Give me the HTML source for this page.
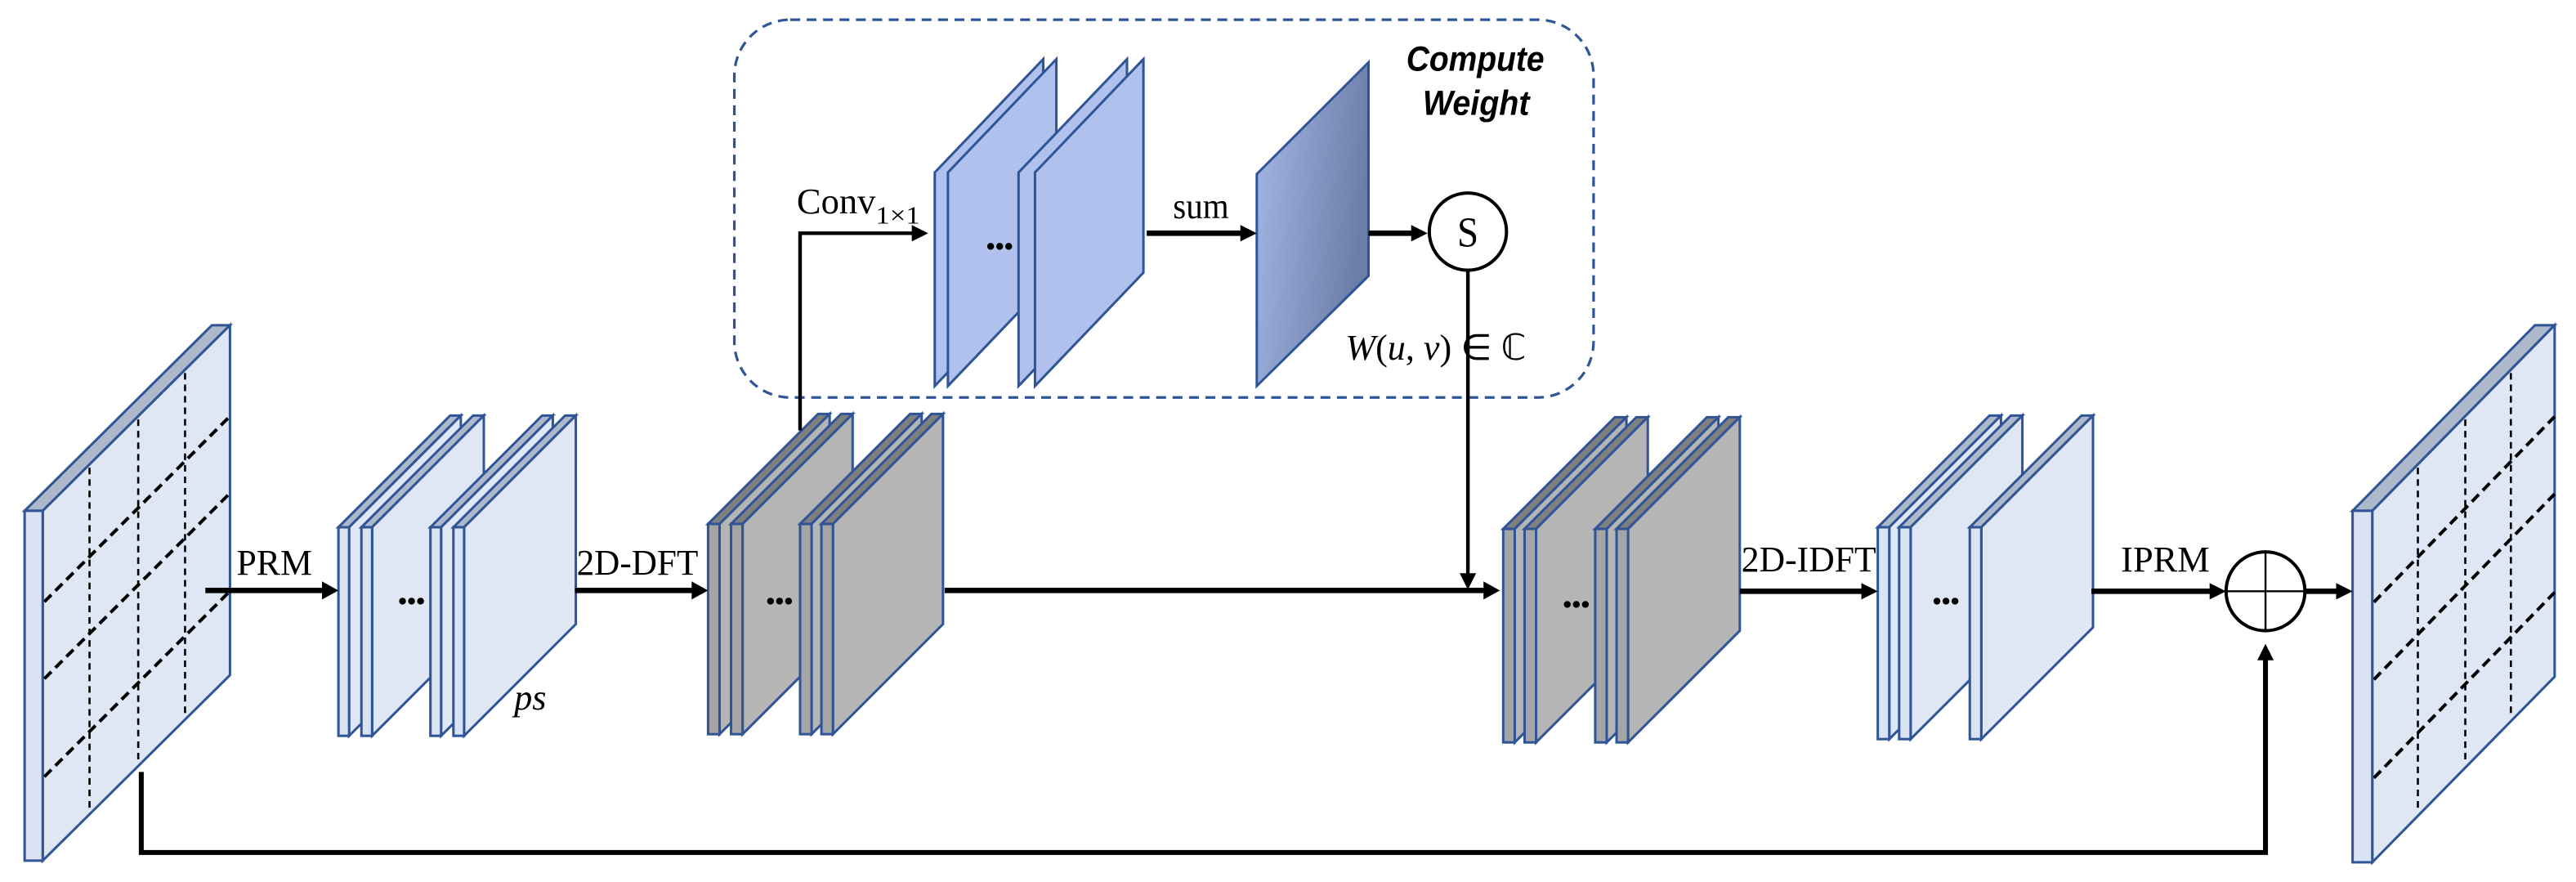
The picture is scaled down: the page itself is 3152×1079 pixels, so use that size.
<!DOCTYPE html>
<html><head><meta charset="utf-8">
<style>
html,body{margin:0;padding:0;background:#fff;width:3152px;height:1079px;overflow:hidden}
svg{display:block}
.lbl{font-family:"Liberation Serif",serif;font-size:22px;fill:#000}
</style></head>
<body>
<svg id="s" width="3152" height="1079" viewBox="0 0 1568 537" preserveAspectRatio="none" xmlns="http://www.w3.org/2000/svg">
<defs>
<linearGradient id="g" x1="0" y1="0" x2="1" y2="0.3">
<stop offset="0" stop-color="#a6b8e6"/><stop offset="1" stop-color="#6b7ea8"/>
</linearGradient>
</defs>
<rect x="447" y="12" width="523" height="230" rx="34" ry="34" fill="none" stroke="#2f5597" stroke-width="1.6" stroke-dasharray="6 4"/>
<g id="shapes"></g>
<g id="lines" stroke="#000" fill="none" stroke-linecap="butt">
<line x1="125" y1="359.5" x2="198" y2="359.5" stroke-width="3.3"/>
<line x1="350" y1="359.5" x2="423" y2="359.5" stroke-width="3.3"/>
<line x1="575" y1="359.5" x2="905" y2="359.5" stroke-width="3.3"/>
<line x1="1059" y1="360" x2="1135" y2="360" stroke-width="3.3"/>
<line x1="1273" y1="360" x2="1347" y2="360" stroke-width="3.3"/>
<line x1="1403" y1="360" x2="1424" y2="360" stroke-width="3.3"/>
<polyline points="86,470 86,519 1379,519 1379,400" stroke-width="3"/>
<polyline points="487,262 487,142 557,142" stroke-width="2.2"/>
<line x1="698" y1="142" x2="757" y2="142" stroke-width="3.3"/>
<line x1="833" y1="142" x2="861" y2="142" stroke-width="3.3"/>
<line x1="893.5" y1="165" x2="893.5" y2="350" stroke-width="2.2"/>
</g>
<g fill="#000">
<polygon points="206,359.5 196,354 196,365"/>
<polygon points="431,359.5 421,354 421,365"/>
<polygon points="913,359.5 903,354 903,365"/>
<polygon points="1143,360 1133,355 1133,365"/>
<polygon points="1355,360 1345,355 1345,365"/>
<polygon points="1432,360 1422,355 1422,365"/>
<polygon points="1379,392 1374,402 1384,402"/>
<polygon points="565,142 555,137 555,147"/>
<polygon points="765,142 755,137 755,147"/>
<polygon points="869,142 859,137 859,147"/>
<polygon points="893.5,359 888.5,349 898.5,349"/>
</g>
<circle cx="893.5" cy="141" r="23.5" fill="#fff" stroke="#000" stroke-width="2"/>
<text x="893.5" y="150" text-anchor="middle" class="lbl" style="font-size:26px" textLength="13" lengthAdjust="spacingAndGlyphs">S</text>
<circle cx="1379" cy="360" r="24" fill="#fff" stroke="#000" stroke-width="2"/>
<line x1="1355" y1="360" x2="1403" y2="360" stroke="#000" stroke-width="1.2"/>
<line x1="1379" y1="336" x2="1379" y2="384" stroke="#000" stroke-width="1.2"/>
<text class="lbl" x="144" y="350" textLength="46" lengthAdjust="spacingAndGlyphs">PRM</text>
<text class="lbl" x="351" y="350" textLength="74" lengthAdjust="spacingAndGlyphs">2D-DFT</text>
<text class="lbl" x="1060" y="348" textLength="82" lengthAdjust="spacingAndGlyphs">2D-IDFT</text>
<text class="lbl" x="1291" y="348" textLength="54" lengthAdjust="spacingAndGlyphs">IPRM</text>
<text class="lbl" x="313" y="432" style="font-style:italic">ps</text>
<text class="lbl" x="485" y="130" textLength="48" lengthAdjust="spacingAndGlyphs">Conv</text>
<text class="lbl" x="533" y="136" style="font-size:15px" textLength="27" lengthAdjust="spacingAndGlyphs">1×1</text>
<text class="lbl" x="714" y="133" textLength="34" lengthAdjust="spacingAndGlyphs">sum</text>
<text x="856" y="43" style="font-family:'Liberation Sans',sans-serif;font-weight:bold;font-style:italic;font-size:21px" textLength="84" lengthAdjust="spacingAndGlyphs">Compute</text>
<text x="866" y="70" style="font-family:'Liberation Sans',sans-serif;font-weight:bold;font-style:italic;font-size:21px" textLength="65" lengthAdjust="spacingAndGlyphs">Weight</text>
<text class="lbl" x="819" y="219" textLength="110" lengthAdjust="spacingAndGlyphs"><tspan font-style="italic">W</tspan>(<tspan font-style="italic">u</tspan>, <tspan font-style="italic">v</tspan>) ∈ ℂ</text>
</svg>
<script>
var NS="http://www.w3.org/2000/svg",G=document.getElementById("shapes");
function el(t,a){var e=document.createElementNS(NS,t);for(var k in a)e.setAttribute(k,a[k]);G.appendChild(e);return e;}
var SC="#2f5597";
function pts(a){return a.map(function(p){return p[0]+","+p[1]}).join(" ");}
function plane(x,y,t,dx,dy,h,face,top,front,sw){
 sw=sw||1.5;
 el("polygon",{points:pts([[x,y],[x+t,y],[x+t+dx,y-dy],[x+dx,y-dy]]),fill:top,stroke:SC,"stroke-width":sw});
 el("polygon",{points:pts([[x+t,y],[x+t+dx,y-dy],[x+t+dx,y-dy+h],[x+t,y+h]]),fill:face,stroke:SC,"stroke-width":sw});
 el("rect",{x:x,y:y,width:t,height:h,fill:front,stroke:SC,"stroke-width":sw});
}
function dots(x,y){for(var i=0;i<3;i++)el("circle",{cx:x+i*5.5,cy:y,r:2.1,fill:"#000"});}
function grid(x,y,dx,dy,h){
 [0.25,0.51,0.76].forEach(function(u){
  var px=x+u*dx,py=y-u*dy;
  el("line",{x1:px,y1:py+2,x2:px,y2:py+h-2,stroke:"#000","stroke-width":1.3,"stroke-dasharray":"4 3"});
 });
 [0.26,0.48,0.76].forEach(function(v){
  var py=y+v*h;
  el("line",{x1:x+1,y1:py,x2:x+dx,y2:py-dy,stroke:"#000","stroke-width":2,"stroke-dasharray":"6 3.5"});
 });
}
var LF="#dfe7f5",LT="#adb9ca",LE="#dae3f3";
plane(15,311,11,114,113,213,LF,LT,LE);
grid(26,311,114,113,213);
[206,220,262,276].forEach(function(x){plane(x,321,6.5,68,68,127,LF,LT,LE);});
dots(245,366);
[431,445,487,500].forEach(function(x){plane(x,319,7,67,67,128,"#b5b5b5","#7f7f7f","#a5a5a5");});
dots(469,366);
[569,577,620,630].forEach(function(x){
 el("polygon",{points:pts([[x,105],[x+66,36],[x+66,166],[x,235]]),fill:"#afc1ec",stroke:SC,"stroke-width":1.5});
});
dots(603,150);
el("polygon",{points:pts([[765,106],[833,38],[833,168],[765,235]]),fill:"url(#g)",stroke:SC,"stroke-width":1.5});
[915,928,971,984].forEach(function(x){plane(x,322,7,68,68,130,"#b5b5b5","#7f7f7f","#a5a5a5");});
dots(954,368);
[1143,1156,1199].forEach(function(x){plane(x,321,7,68,68,129,LF,LT,LE);});
dots(1179,366);
plane(1432,311,12,111,113,214,LF,LT,LE);
grid(1444,311,111,113,214);
</script>
</body></html>
